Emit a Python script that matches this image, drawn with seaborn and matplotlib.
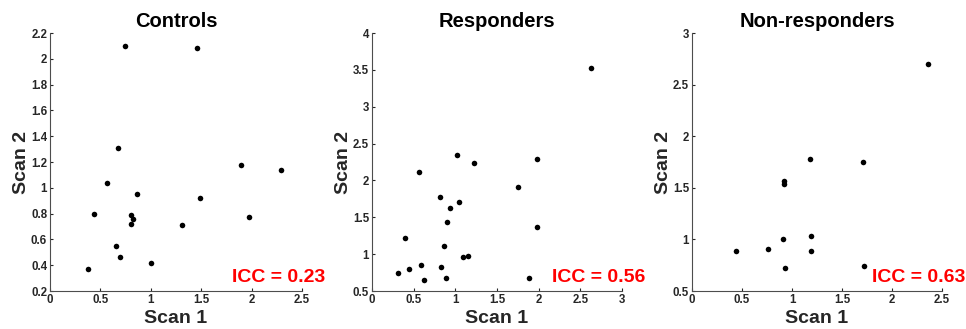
import numpy as np
import pandas as pd
import matplotlib
matplotlib.use('Agg')
import matplotlib.pyplot as plt
import seaborn as sns

sns.set_style('white')
plt.rcParams['font.family'] = ['Liberation Sans', 'DejaVu Sans']
plt.rcParams['font.weight'] = 'bold'

# Controls
ctrl_scan1 = [0.74, 1.46, 0.67, 1.89, 2.29, 0.57, 0.86, 1.49, 0.44, 0.80, 0.82, 1.97, 0.80, 1.31, 0.65, 0.69, 1.00, 0.38]
ctrl_scan2 = [2.10, 2.08, 1.31, 1.18, 1.14, 1.04, 0.95, 0.92, 0.80, 0.79, 0.76, 0.77, 0.72, 0.71, 0.55, 0.46, 0.42, 0.37]

# Responders
resp_scan1 = [2.63, 1.02, 1.22, 1.98, 0.56, 1.75, 0.82, 1.04, 0.94, 0.90, 1.98, 0.40, 0.86, 1.15, 1.09, 0.59, 0.83, 0.44, 0.31, 0.89, 0.62, 1.88]
resp_scan2 = [3.52, 2.34, 2.23, 2.29, 2.11, 1.91, 1.77, 1.71, 1.63, 1.44, 1.37, 1.22, 1.11, 0.98, 0.96, 0.85, 0.83, 0.80, 0.74, 0.67, 0.65, 0.67]

# Non-responders
nonr_scan1 = [2.36, 1.18, 1.71, 0.92, 0.92, 1.19, 0.91, 0.76, 0.44, 1.19, 0.93, 1.72]
nonr_scan2 = [2.70, 1.78, 1.75, 1.57, 1.54, 1.03, 1.00, 0.91, 0.89, 0.89, 0.72, 0.74]

titles = ['Controls', 'Responders', 'Non-responders']
icc_values = [0.23, 0.56, 0.63]
x_limits = [(0, 2.5), (0, 3), (0, 2.5)]
y_limits = [(0.2, 2.2), (0.5, 4), (0.5, 3)]
x_ticks = [np.arange(0, 2.51, 0.5), np.arange(0, 3.01, 0.5), np.arange(0, 2.51, 0.5)]
y_ticks = [np.arange(0.2, 2.21, 0.2), np.arange(0.5, 4.01, 0.5), np.arange(0.5, 3.01, 0.5)]

groups = [(ctrl_scan1, ctrl_scan2), (resp_scan1, resp_scan2), (nonr_scan1, nonr_scan2)]

fig = plt.figure(figsize=(9.66, 3.29), dpi=100)
lefts = [50 / 966, 372 / 966, 692 / 966]
widths = [252 / 966, 250 / 966, 250 / 966]
text_col = '#262626'

for i, (s1, s2) in enumerate(groups):
    ax = fig.add_axes([lefts[i], 38 / 329, widths[i], 258 / 329])
    df = pd.DataFrame({'Scan 1': s1, 'Scan 2': s2})
    sns.scatterplot(data=df, x='Scan 1', y='Scan 2', ax=ax, color='black', s=16, linewidth=0)
    ax.set_xlim(x_limits[i])
    ax.set_ylim(y_limits[i])
    ax.set_xticks(x_ticks[i])
    ax.set_yticks(y_ticks[i])
    ax.set_xticklabels([f'{v:g}' for v in x_ticks[i]])
    ax.set_yticklabels([f'{v:g}' for v in np.round(y_ticks[i], 1)])
    ax.tick_params(direction='in', length=2.5, width=0.8, labelsize=8.3, pad=2,
                   colors=text_col, left=True, bottom=True)
    for lab in ax.get_xticklabels() + ax.get_yticklabels():
        lab.set_fontweight('bold')
    sns.despine(ax=ax)
    for sp in ['left', 'bottom']:
        ax.spines[sp].set_color('#4d4d4d')
        ax.spines[sp].set_linewidth(0.8)
    ax.set_xlabel('Scan 1', fontsize=14, fontweight='bold', color=text_col, labelpad=3)
    ax.set_ylabel('Scan 2', fontsize=14, fontweight='bold', color=text_col, labelpad=1)
    ax.set_title(titles[i], fontsize=14.5, fontweight='bold', color='black', pad=4)
    ax.text(1.092, 0.035, f'ICC = {icc_values[i]:.2f}', transform=ax.transAxes,
            ha='right', va='baseline', color='#ff0000', fontsize=14, fontweight='bold',
            clip_on=False)

fig.savefig('out.png', dpi=100)
